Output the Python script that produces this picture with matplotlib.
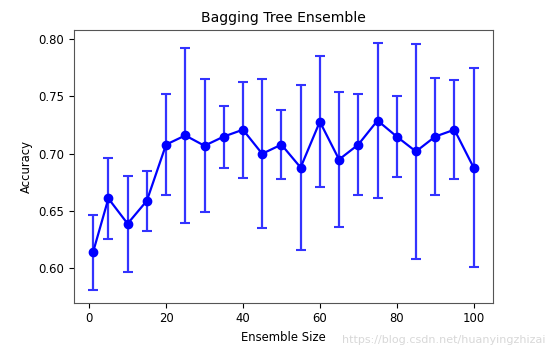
import matplotlib
matplotlib.use("Agg")
import matplotlib.pyplot as plt

# ensemble sizes and mean accuracy / std
sizes = [1, 5, 10, 15, 20, 25, 30, 35, 40, 45, 50, 55, 60, 65, 70, 75, 80, 85, 90, 95, 100]
acc_mean = [0.614, 0.661, 0.639, 0.659, 0.708, 0.716, 0.707, 0.715, 0.721, 0.700, 0.708,
            0.688, 0.728, 0.695, 0.708, 0.729, 0.715, 0.702, 0.715, 0.721, 0.688]
acc_std = [0.033, 0.035, 0.042, 0.026, 0.044, 0.076, 0.058, 0.027, 0.042, 0.065, 0.030,
           0.072, 0.057, 0.059, 0.044, 0.068, 0.035, 0.094, 0.051, 0.043, 0.087]

plt.rcParams['font.size'] = 8.4
fig = plt.figure(figsize=(5.48, 3.47), dpi=100)
ax = fig.add_axes([0.135, 0.128, 0.764, 0.785])

ax.errorbar(sizes, acc_mean, yerr=acc_std, fmt='-o', color='blue', ecolor='#3333ff',
            markersize=6, linewidth=1.6, elinewidth=1.6, capsize=3.5, capthick=1.5)
ax.set_title("Bagging Tree Ensemble")
ax.set_xlabel("Ensemble Size")
ax.set_ylabel("Accuracy")
ax.set_xticks([0, 20, 40, 60, 80, 100])
ax.set_yticks([0.60, 0.65, 0.70, 0.75, 0.80])

for s in ax.spines.values():
    s.set_color('#555555')

# watermark, kept clear of the axis labels
fig.text(0.995, 0.005, "https://blog.csdn.net/huanyingzhizai", ha='right', va='bottom',
         fontsize=8, color='#d8d8d8')

fig.savefig("out.png", dpi=100)
